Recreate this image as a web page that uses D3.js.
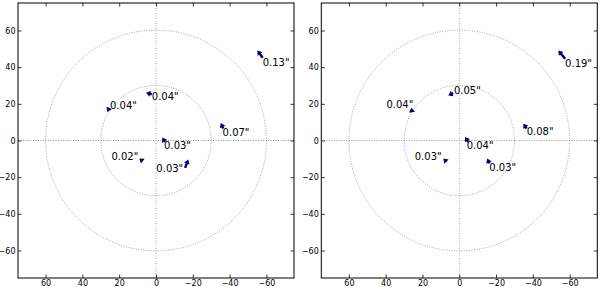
<!DOCTYPE html>
<html>
<head>
<meta charset="utf-8">
<script src="https://cdn.jsdelivr.net/npm/d3@7"></script>
<style>
  body { margin: 0; background: #fff; }
  svg { display: block; font-family: "DejaVu Sans", sans-serif; }
</style>
</head>
<body>
<div id="chart"></div>
<script>
// axis ticks and rings
var xTicks = [60, 40, 20, 0, -20, -40, -60];
var yTicks = [-60, -40, -20, 0, 20, 40, 60];
var ringRadii = [30, 60];

// left panel: star positions, displacement vectors, labels
var starXL = [-58.0, 25.4, 2.3, -36.6, -4.9, 7.2, -15.8];
var starYL = [45.1, 17.9, 25.2, 6.5, -0.8, -11.3, -14.9];
var vecUL = [2.9, 1.1, 3.1, 1.4, 1.5, 1.9, -1.8];
var vecVL = [4.0, -2.3, 0.9, 3.1, 2.4, 1.5, 4.6];
var textL = ['0.13"', '0.04"', '0.04"', '0.07"', '0.03"', '0.02"', '0.03"'];
var labXL = [-58.0, 25.0, 2.3, -36.2, -4.4, 9.6, -14.8];
var labYL = [42.6, 19.2, 23.8, 4.5, -2.6, -8.9, -15.2];
var anchorL = ["start", "start", "start", "start", "start", "end", "end"];

// right panel
var starXR = [-57.5, 25.7, 3.3, -36.6, -4.9, 6.9, -16.3];
var starYR = [44.6, 15.4, 25.9, 6.5, -0.8, -11.6, -12.5];
var vecUR = [3.7, 0.3, 2.7, 1.8, 1.8, 1.8, 1.1];
var vecVR = [4.5, 2.4, -1.3, 2.7, 2.7, 1.8, 2.7];
var textR = ['0.19"', '0.04"', '0.05"', '0.08"', '0.04"', '0.03"', '0.03"'];
var labXR = [-57.5, 25.0, 2.9, -36.6, -4.0, 9.6, -16.3];
var labYR = [41.9, 19.9, 27.2, 5.2, -2.6, -8.9, -14.5];
var anchorR = ["start", "end", "start", "start", "start", "end", "start"];

var svg = d3.select("#chart").append("svg")
    .attr("width", 600)
    .attr("height", 287);

var plotW = 276, plotH = 275;

function fmt(d) {
    return d < 0 ? "\u2212" + Math.abs(d) : String(d);
}

function drawPanel(left, top, sx, sy, u, v, texts, lx, ly, anchors) {
    var g = svg.append("g").attr("transform", "translate(" + left + "," + top + ")");

    var x = d3.scaleLinear().domain([75, -75]).range([0, plotW]);
    var y = d3.scaleLinear().domain([-75, 75]).range([plotH, 0]);

    // dotted zero lines
    g.append("line")
        .attr("x1", 0).attr("x2", plotW)
        .attr("y1", y(0)).attr("y2", y(0))
        .attr("stroke", "#777").attr("stroke-width", 0.8)
        .attr("stroke-dasharray", "1,1.5");
    g.append("line")
        .attr("x1", x(0)).attr("x2", x(0))
        .attr("y1", 0).attr("y2", plotH)
        .attr("stroke", "#999").attr("stroke-width", 0.8)
        .attr("stroke-dasharray", "1,1.5");

    // rings
    g.selectAll(".ring")
        .data(ringRadii)
        .enter().append("circle")
        .attr("class", "ring")
        .attr("cx", x(0))
        .attr("cy", y(0))
        .attr("r", function(d) { return x(0) - x(d); })
        .attr("fill", "none")
        .attr("stroke", "#888")
        .attr("stroke-width", 0.8)
        .attr("stroke-dasharray", "1,1.5");

    // axes, ticks pointing inward on every side
    var bottom = g.append("g")
        .attr("transform", "translate(0," + plotH + ")")
        .call(d3.axisBottom(x).tickValues(xTicks).tickSizeInner(-3.5).tickSizeOuter(0)
            .tickPadding(2.5).tickFormat(fmt));
    var topAx = g.append("g")
        .call(d3.axisTop(x).tickValues(xTicks).tickSizeInner(-3.5).tickSizeOuter(0)
            .tickFormat(""));
    var leftAx = g.append("g")
        .call(d3.axisLeft(y).tickValues(yTicks).tickSizeInner(-3.5).tickSizeOuter(0)
            .tickPadding(2.5).tickFormat(fmt));
    var rightAx = g.append("g")
        .attr("transform", "translate(" + plotW + ",0)")
        .call(d3.axisRight(y).tickValues(yTicks).tickSizeInner(-3.5).tickSizeOuter(0)
            .tickFormat(""));

    [bottom, topAx, leftAx, rightAx].forEach(function(a) {
        a.select(".domain").remove();
        a.selectAll("line").attr("stroke", "#000").attr("stroke-width", 0.8);
        a.selectAll("text").attr("font-size", "8px").attr("fill", "#000")
            .attr("font-family", "DejaVu Sans, sans-serif");
    });

    // frame
    g.append("rect")
        .attr("width", plotW).attr("height", plotH)
        .attr("fill", "none").attr("stroke", "#000").attr("stroke-width", 1);

    // quiver arrows
    var arrows = sx.map(function(d, i) { return { x: d, y: sy[i], u: u[i], v: v[i] }; });
    g.selectAll(".arrow")
        .data(arrows)
        .enter().append("polygon")
        .attr("class", "arrow")
        .attr("fill", "#000080")
        .attr("points", function(d) {
            var x0 = x(d.x), y0 = y(d.y);
            var x1 = x(d.x + d.u), y1 = y(d.y + d.v);
            var dx = x1 - x0, dy = y1 - y0;
            var L = Math.sqrt(dx * dx + dy * dy);
            var ux = dx / L, uy = dy / L, nx = -uy, ny = ux;
            var sw = 1.2, hw = 3.0, hl = 4.4;
            if (L < hl) { hw = hw * L / hl; hl = L; }
            var b = L - hl;
            var pts = [
                [x0 + nx * sw, y0 + ny * sw],
                [x0 + ux * b + nx * sw, y0 + uy * b + ny * sw],
                [x0 + ux * b + nx * hw, y0 + uy * b + ny * hw],
                [x1, y1],
                [x0 + ux * b - nx * hw, y0 + uy * b - ny * hw],
                [x0 + ux * b - nx * sw, y0 + uy * b - ny * sw],
                [x0 - nx * sw, y0 - ny * sw]
            ];
            return pts.map(function(p) { return p[0].toFixed(2) + "," + p[1].toFixed(2); }).join(" ");
        });

    // labels
    g.selectAll(".lab")
        .data(texts)
        .enter().append("text")
        .attr("class", "lab")
        .attr("x", function(d, i) { return x(lx[i]); })
        .attr("y", function(d, i) { return y(ly[i]); })
        .attr("dy", "0.36em")
        .attr("text-anchor", function(d, i) { return anchors[i]; })
        .attr("font-size", "10px")
        .attr("fill", "#000")
        .text(function(d) { return d; });
}

drawPanel(18, 3, starXL, starYL, vecUL, vecVL, textL, labXL, labYL, anchorL);
drawPanel(321.3, 3, starXR, starYR, vecUR, vecVR, textR, labXR, labYR, anchorR);
</script>
</body>
</html>
